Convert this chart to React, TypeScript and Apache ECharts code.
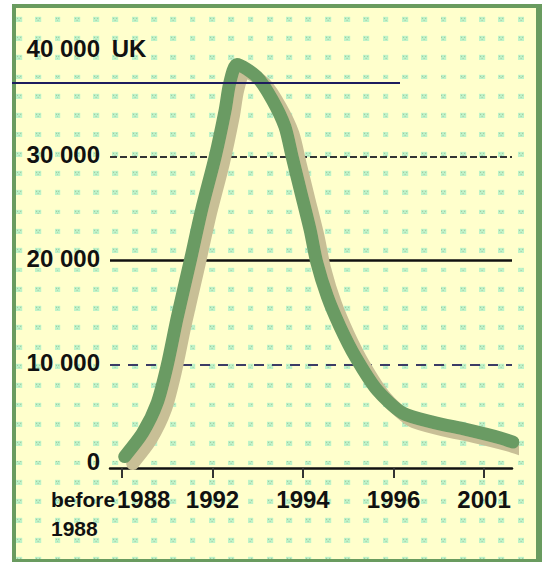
import React, { useEffect, useRef } from "react";
import * as echarts from "echarts";

// ---- data ----
const xTickValues = [0, 1, 2, 3, 4];
const xTickLabels = ["1988", "1992", "1994", "1996", "2001"];
const beforeLabel = ["before", "1988"];
const yTickLabels = ["0", "10 000", "20 000", "30 000", "40 000"];
const unitLabel = "UK";
const gridValues = [10000, 20000, 30000];

// x in tick units (0 = first tick "1988", 1 = "1992", ...)
const seriesX = [0.03, 0.23, 0.39, 0.5, 0.61, 0.75, 0.88, 1.03, 1.14, 1.19, 1.27, 1.49, 1.66, 1.8, 1.88, 1.97, 2.08, 2.15, 2.27, 2.41, 2.58, 2.82, 3.1, 3.44, 3.81, 4.18, 4.32];
const seriesY = [1100, 3400, 6300, 9900, 14500, 19800, 24900, 30000, 34500, 37100, 38900, 37700, 35500, 32900, 30000, 26800, 22900, 19900, 16500, 13600, 10700, 7500, 5300, 4400, 3700, 2900, 2500];

const X_MIN = -0.1326;
const X_MAX = 4.309;

const FONT = "'Liberation Sans', Arial, sans-serif";

const dotTile =
  "data:image/svg+xml;utf8," +
  encodeURIComponent(
    "<svg xmlns='http://www.w3.org/2000/svg' width='19.3' height='19.3'>" +
      "<rect x='0' y='8.5' width='6' height='5' fill='#bdf3c8'/>" +
      "<rect x='1' y='9.5' width='1' height='1' fill='#9fc39a'/>" +
      "<rect x='4' y='9.5' width='1' height='1' fill='#9fc39a'/>" +
      "<rect x='2.5' y='11.5' width='1' height='1' fill='#a9c3a0'/>" +
      "</svg>"
  );

export default function App() {
  const ref = useRef<HTMLDivElement>(null);

  useEffect(() => {
    if (!ref.current) return;
    const chart = echarts.init(ref.current, null, { renderer: "svg" });
    const gridStyles: any[] = [
      { color: "#3c3c66", width: 2, type: [10, 8] },
      { color: "#111111", width: 2.5, type: "solid" },
      { color: "#333333", width: 2, type: [7, 3] },
    ];
    // first label block sits at the axis start, the rest under their ticks
    const labelValues = [X_MIN, ...xTickValues.slice(1)];
    chart.setOption({
      animation: false,
      backgroundColor: "transparent",
      grid: { left: 110, right: 30, top: 53, bottom: 94 },
      xAxis: {
        type: "value",
        min: X_MIN,
        max: X_MAX,
        axisLine: { show: true, onZero: false, lineStyle: { color: "#111", width: 2.5 } },
        axisTick: {
          show: true,
          customValues: xTickValues,
          length: 10,
          lineStyle: { color: "#333", width: 2 },
        },
        splitLine: { show: false },
        axisLabel: {
          customValues: labelValues,
          hideOverlap: false,
          showMinLabel: true,
          showMaxLabel: true,
          margin: 17,
          color: "#111",
          fontFamily: FONT,
          fontWeight: "bold",
          fontSize: 24,
          lineHeight: 29,
          formatter: (v: number) => {
            const n = Number(v);
            if (n < 0.5) {
              return `{a|${beforeLabel[0]}}{b|${xTickLabels[0]}}\n{c|${beforeLabel[1]}}`;
            }
            return xTickLabels[Math.round(n)] ?? "";
          },
          rich: {
            a: { fontFamily: FONT, fontWeight: "bold", fontSize: 21, width: 66, align: "left", lineHeight: 29, color: "#111" },
            b: { fontFamily: FONT, fontWeight: "bold", fontSize: 24, width: 52, align: "left", lineHeight: 29, color: "#111" },
            c: { fontFamily: FONT, fontWeight: "bold", fontSize: 21, width: 118, align: "left", lineHeight: 29, color: "#111" },
          },
        },
      },
      yAxis: {
        type: "value",
        min: 0,
        max: 40000,
        interval: 10000,
        name: unitLabel,
        nameLocation: "end",
        nameGap: 5,
        nameTextStyle: {
          fontFamily: FONT,
          fontWeight: "bold",
          fontSize: 24,
          color: "#111",
          align: "center",
          verticalAlign: "middle",
          padding: [0, 0, 0, 14],
        },
        axisLine: { show: false },
        axisTick: { show: false },
        splitLine: { show: false },
        axisLabel: {
          margin: 10,
          color: "#111",
          fontFamily: FONT,
          fontWeight: "bold",
          fontSize: 24,
          formatter: (v: number) => {
            const i = Math.round(v / 10000);
            const t = yTickLabels[i] ?? "";
            if (i === 0) return `{lo|${t}}`;
            if (i === 4) return `{hi|${t}}`;
            return `{md|${t}}`;
          },
          rich: {
            lo: { fontFamily: FONT, fontWeight: "bold", fontSize: 24, color: "#111", padding: [0, 0, 14, 0] },
            hi: { fontFamily: FONT, fontWeight: "bold", fontSize: 24, color: "#111", padding: [0, 0, 10, 0] },
            md: { fontFamily: FONT, fontWeight: "bold", fontSize: 24, color: "#111", padding: [0, 0, 4, 0] },
          },
        },
      },
      graphic: [
        {
          type: "line",
          z: 100,
          shape: { x1: 12, y1: 83, x2: 400, y2: 83 },
          style: { stroke: "#1c1c5e", lineWidth: 2 },
          silent: true,
        },
      ],
      series: [
        {
          type: "line",
          z: 1,
          data: [],
          silent: true,
          markLine: {
            z: 1,
            silent: true,
            symbol: ["none", "none"],
            label: { show: false },
            data: gridValues.map((v, i) => ({ yAxis: v, lineStyle: gridStyles[i] })),
          },
        },
        {
          type: "line",
          z: 3,
          clip: false,
          smooth: 0.25,
          showSymbol: false,
          symbol: "none",
          data: seriesX.map((x, i) => [x, seriesY[i]]),
          lineStyle: {
            color: "#6b9b64",
            width: 13,
            cap: "round",
            join: "round",
            shadowColor: "#c8bf96",
            shadowBlur: 1,
            shadowOffsetX: 8,
            shadowOffsetY: 7,
          },
        },
      ],
    });
    return () => chart.dispose();
  }, []);

  return (
    <div style={{ position: "fixed", left: 0, top: 0, width: 542, height: 562, background: "#ffffff", overflow: "hidden" }}>
      <div
        style={{
          position: "absolute",
          left: 12,
          top: 4,
          width: 530,
          height: 558,
          boxSizing: "border-box",
          borderLeft: "4px solid #699b5f",
          borderTop: "4px solid #699b5f",
          borderRight: "6px solid #699b5f",
          borderBottom: "3px solid #699b5f",
          backgroundColor: "#ffffcc",
          backgroundImage: `url("${dotTile}")`,
          backgroundSize: "19.3px 19.3px",
          backgroundRepeat: "repeat",
        }}
      />
      <div ref={ref} style={{ position: "absolute", left: 0, top: 0, width: 542, height: 562 }} />
    </div>
  );
}
